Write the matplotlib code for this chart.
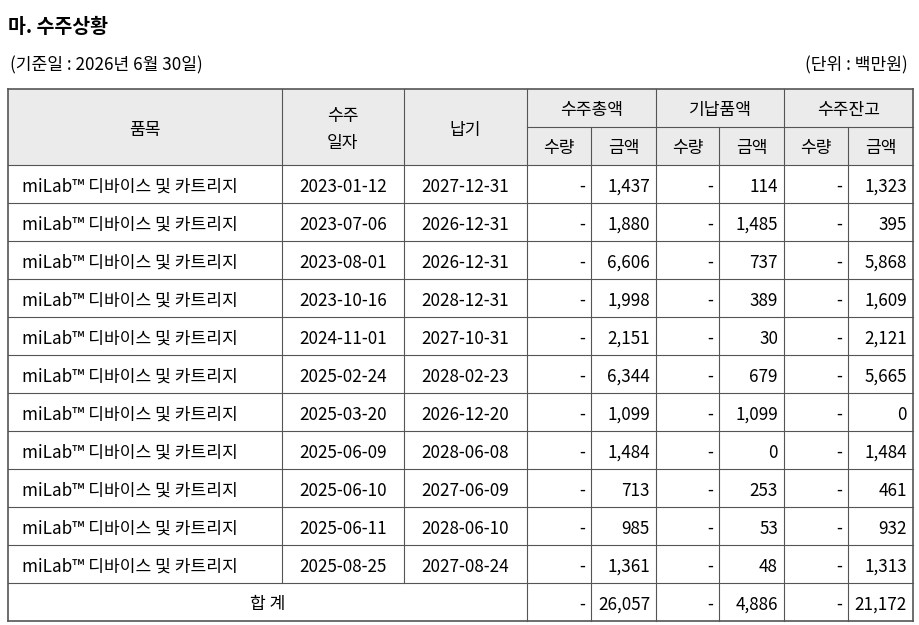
import matplotlib
matplotlib.use("Agg")
import matplotlib.pyplot as plt
from matplotlib.patches import Rectangle

plt.rcParams['font.family'] = ['Noto Sans CJK KR', 'DejaVu Sans']

title = "마. 수주상황"
basis = "(기준일 : 2026년 6월 30일)"
unit = "(단위 : 백만원)"
product = "miLab™ 디바이스 및 카트리지"
order_dates = ["2023-01-12","2023-07-06","2023-08-01","2023-10-16","2024-11-01","2025-02-24",
               "2025-03-20","2025-06-09","2025-06-10","2025-06-11","2025-08-25"]
due_dates = ["2027-12-31","2026-12-31","2026-12-31","2028-12-31","2027-10-31","2028-02-23",
             "2026-12-20","2028-06-08","2027-06-09","2028-06-10","2027-08-24"]
total_amt = ["1,437","1,880","6,606","1,998","2,151","6,344","1,099","1,484","713","985","1,361"]
deliv_amt = ["114","1,485","737","389","30","679","1,099","0","253","53","48"]
remain_amt = ["1,323","395","5,868","1,609","2,121","5,665","0","1,484","461","932","1,313"]
sum_row = ["-","26,057","-","4,886","-","21,172"]

fig = plt.figure(figsize=(9.2, 6.25), dpi=100)
ax = fig.add_axes([0, 0, 1, 1])
ax.set_xlim(0, 920); ax.set_ylim(625, 0); ax.axis('off')

fs = 12.3
dy = 2.5
ax.text(8, 25 + dy, title, fontsize=14, fontweight='bold', va='center', ha='left')
ax.text(10, 63 + dy, basis, fontsize=fs, va='center', ha='left')
ax.text(908, 63 + dy, unit, fontsize=fs, va='center', ha='right')

xs = [8, 282, 404, 527, 591, 656, 719, 784, 848, 913]
top, h1, h2 = 89, 127, 165
rh = 38
nrows = len(order_dates)
bottom = h2 + rh * (nrows + 1)
lc = '#555555'

ax.add_patch(Rectangle((xs[0], top), xs[-1]-xs[0], h2-top, facecolor='#ebebeb', edgecolor='none'))

ax.plot([xs[0], xs[-1]], [top, top], color=lc, lw=1.2)
ax.plot([xs[3], xs[-1]], [h1, h1], color=lc, lw=0.8)
for i in range(nrows + 2):
    y = h2 + rh * i
    ax.plot([xs[0], xs[-1]], [y, y], color=lc, lw=0.8 if i < nrows + 1 else 1.2)
for j, x in enumerate(xs):
    if j in (0, len(xs)-1):
        ax.plot([x, x], [top, bottom], color=lc, lw=1.2)
    elif j in (4, 6, 8):
        ax.plot([x, x], [h1, bottom], color=lc, lw=0.8)
    elif j in (1, 2):
        ax.plot([x, x], [top, bottom - rh], color=lc, lw=0.8)
    else:
        ax.plot([x, x], [top, bottom], color=lc, lw=0.8)

def cx(a, b): return (xs[a] + xs[b]) / 2
ax.text(cx(0,1), (top+h2)/2 + dy, "품목", fontsize=fs, ha='center', va='center')
ax.text(cx(1,2), (top+h2)/2 + dy, "수주\n일자", fontsize=fs, ha='center', va='center', linespacing=1.6)
ax.text(cx(2,3), (top+h2)/2 + dy, "납기", fontsize=fs, ha='center', va='center')
for k, lab in enumerate(["수주총액", "기납품액", "수주잔고"]):
    ax.text(cx(3+2*k, 5+2*k), (top+h1)/2 + dy, lab, fontsize=fs, ha='center', va='center')
    ax.text(cx(3+2*k, 4+2*k), (h1+h2)/2 + dy, "수량", fontsize=fs, ha='center', va='center')
    ax.text(cx(4+2*k, 5+2*k), (h1+h2)/2 + dy, "금액", fontsize=fs, ha='center', va='center')

for i in range(nrows):
    y = h2 + rh * i + rh / 2 + dy
    ax.text(22, y, product, fontsize=fs, ha='left', va='center')
    ax.text(cx(1,2), y, order_dates[i], fontsize=fs, ha='center', va='center')
    ax.text(cx(2,3), y, due_dates[i], fontsize=fs, ha='center', va='center')
    vals = ["-", total_amt[i], "-", deliv_amt[i], "-", remain_amt[i]]
    for k, v in enumerate(vals):
        ax.text(xs[4+k] - 6, y, v, fontsize=fs, ha='right', va='center')

y = h2 + rh * nrows + rh / 2 + dy
ax.text(cx(0,3), y, "합 계", fontsize=fs, ha='center', va='center')
for k, v in enumerate(sum_row):
    ax.text(xs[4+k] - 6, y, v, fontsize=fs, ha='right', va='center')

fig.savefig("out.png", dpi=100)
